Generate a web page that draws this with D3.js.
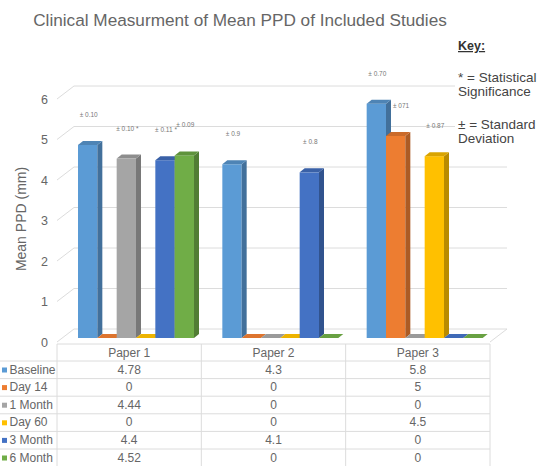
<!DOCTYPE html>
<html>
<head>
<meta charset="utf-8">
<script src="https://cdn.jsdelivr.net/npm/d3@7"></script>
<style>
  body { margin: 0; background: #fff; }
  svg { display: block; font-family: "Liberation Sans", Arial, sans-serif; }
</style>
</head>
<body>
<script>
// ---------- data ----------
const papers = ["Paper 1", "Paper 2", "Paper 3"];
const series = ["Baseline", "Day 14", "1 Month", "Day 60", "3 Month", "6 Month"];
const seriesColors = ["#5B9BD5", "#ED7D31", "#A5A5A5", "#FFC000", "#4472C4", "#70AD47"];
const baselineVals = [4.78, 4.3, 5.8];
const day14Vals    = [0, 0, 5];
const month1Vals   = [4.44, 0, 0];
const day60Vals    = [0, 0, 4.5];
const month3Vals   = [4.4, 4.1, 0];
const month6Vals   = [4.52, 0, 0];
const yTicks = [0, 1, 2, 3, 4, 5, 6];
const sdLabels = [
  { paper: "Paper 1", series: "Baseline", text: "± 0.10" },
  { paper: "Paper 1", series: "1 Month",  text: "± 0.10 *" },
  { paper: "Paper 1", series: "3 Month",  text: "± 0.11 *" },
  { paper: "Paper 1", series: "6 Month",  text: "± 0.09" },
  { paper: "Paper 2", series: "Baseline", text: "± 0.9" },
  { paper: "Paper 2", series: "3 Month",  text: "± 0.8" },
  { paper: "Paper 3", series: "Baseline", text: "± 0.70" },
  { paper: "Paper 3", series: "Day 14",   text: "± 071" },
  { paper: "Paper 3", series: "Day 60",   text: "± 0.87" }
];
const titleText = "Clinical Measurment of Mean PPD of Included Studies";
const yTitle = "Mean PPD (mm)";
const keyTitle = "Key:";
const keyLines = ["* = Statistical", "Significance", "± = Standard", "Deviation"];

const seriesValues = [baselineVals, day14Vals, month1Vals, day60Vals, month3Vals, month6Vals];
const rows = series.map((s, i) => ({ name: s, color: seriesColors[i], values: seriesValues[i] }));

// ---------- layout ----------
const W = 549, H = 466;
const svg = d3.select("body").append("svg").attr("width", W).attr("height", H);
const gridColor = "#dcdcdc", textColor = "#666";

const xCol = d3.scaleBand().domain(papers).range([57, 490]);
const xSer = d3.scaleBand().domain(series).range([21, 137]);
const yFront = d3.scaleLinear().domain([0, 6]).range([342, 99]);
const yBar = d3.scaleLinear().domain([0, 6]).range([338, 338 - 242.4]);
const DX = 17, DY = 13;       // wall depth
const BDX = 5, BDY = 4;       // bar depth

// title
svg.append("text").attr("x", 240).attr("y", 26).attr("text-anchor", "middle")
  .attr("font-size", 17.2).attr("fill", "#666").text(titleText);

// back wall + side wall gridlines
const gridG = svg.append("g");
gridG.selectAll("path").data(yTicks).join("path")
  .attr("d", t => `M57,${yFront(t)} L${57 + DX},${yFront(t) - DY} L${490 + DX},${yFront(t) - DY}`)
  .attr("fill", "none").attr("stroke", gridColor).attr("stroke-width", 1);
gridG.append("path").attr("d", `M490,${yFront(0)} L${490 + DX},${yFront(0) - DY}`)
  .attr("stroke", gridColor).attr("fill", "none");

// y axis
const yAxis = svg.append("g").attr("transform", "translate(52,0)")
  .call(d3.axisLeft(yFront).tickValues(yTicks).tickSize(0).tickPadding(4).tickFormat(d3.format("d")));
yAxis.select(".domain").remove();
yAxis.selectAll("text").attr("font-size", 12.5).attr("fill", textColor)
  .attr("font-family", "Liberation Sans, Arial, sans-serif");

svg.append("text").attr("transform", "translate(26,219) rotate(-90)").attr("text-anchor", "middle")
  .attr("font-size", 14).attr("fill", textColor).text(yTitle);

// bars (3D)
const barsG = svg.append("g");
const barData = [];
papers.forEach((p, pi) => rows.forEach(r => barData.push({ paper: p, series: r.name, color: r.color, v: r.values[pi] })));
barData.forEach(d => {
  const x = xCol(d.paper) + xSer(d.series);
  const w = xSer.bandwidth();
  const y0 = yBar(0), y1 = yBar(d.v);
  const c = d3.color(d.color);
  const g = barsG.append("g");
  if (d.v > 0) {
    g.append("rect").attr("x", x).attr("y", y1).attr("width", w).attr("height", y0 - y1).attr("fill", d.color);
    g.append("path")
      .attr("d", `M${x + w},${y1} L${x + w + BDX},${y1 - BDY} L${x + w + BDX},${y0 - BDY} L${x + w},${y0} Z`)
      .attr("fill", c.darker(0.9));
  }
  g.append("path")
    .attr("d", `M${x},${y1} L${x + BDX},${y1 - BDY} L${x + w + BDX},${y1 - BDY} L${x + w},${y1} Z`)
    .attr("fill", d.v > 0 ? c.darker(0.45) : c.darker(0.2));
});

// SD labels: centred over their bar, pushed right of a taller neighbour bar
const valOf = (p, s) => rows.find(r => r.name === s).values[papers.indexOf(p)];
svg.append("g").selectAll("text").data(sdLabels).join("text")
  .each(function (d) {
    const si = series.indexOf(d.series);
    const x = xCol(d.paper) + xSer(d.series);
    const ly = yBar(valOf(d.paper, d.series)) - 28;
    const prevTaller = si > 0 && yBar(valOf(d.paper, series[si - 1])) - BDY < ly;
    d3.select(this)
      .attr("x", prevTaller ? x + BDX + 2 : x + xSer.bandwidth() / 2 + 1)
      .attr("text-anchor", prevTaller ? "start" : "middle")
      .attr("y", ly);
  })
  .attr("font-size", 6.5).attr("fill", "#777").text(d => d.text);

// key
const keyG = svg.append("g");
keyG.append("rect").attr("x", 455).attr("y", 66).attr("width", 94).attr("height", 33).attr("fill", "#fff");
keyG.append("rect").attr("x", 455).attr("y", 113).attr("width", 94).attr("height", 33).attr("fill", "#fff");
keyG.append("text").attr("x", 458).attr("y", 50).attr("font-size", 12.5).attr("font-weight", "bold")
  .attr("fill", "#333").attr("text-decoration", "underline").text(keyTitle);
const keyY = [82, 96, 129, 143];
keyG.selectAll("text.k").data(keyLines).join("text").attr("class", "k")
  .attr("x", 458).attr("y", (d, i) => keyY[i]).attr("font-size", 13.5).attr("fill", "#444")
  .text(d => d);

// data table
const tableG = svg.append("g");
const headerTop = 344, rowTop = 361, rowH = 17.6;
const rowY = d3.scaleBand().domain(series).range([rowTop, rowTop + rowH * series.length]);
tableG.append("line").attr("x1", 57).attr("x2", 490).attr("y1", headerTop).attr("y2", headerTop).attr("stroke", gridColor);
series.forEach(s => {
  tableG.append("line").attr("x1", 0).attr("x2", 490).attr("y1", rowY(s)).attr("y2", rowY(s)).attr("stroke", gridColor);
});
[...papers.map(p => xCol(p)), xCol.range()[1]].forEach(x => {
  tableG.append("line").attr("x1", x).attr("x2", x).attr("y1", headerTop).attr("y2", H).attr("stroke", gridColor);
});
tableG.selectAll("text.h").data(papers).join("text").attr("class", "h")
  .attr("x", p => xCol(p) + xCol.bandwidth() / 2).attr("y", headerTop + 13)
  .attr("text-anchor", "middle").attr("font-size", 12).attr("fill", textColor).text(p => p);
rows.forEach(r => {
  const ty = rowY(r.name) + 12.5;
  tableG.append("rect").attr("x", 2).attr("y", ty - 6).attr("width", 5).attr("height", 5).attr("fill", r.color);
  tableG.append("text").attr("x", 9.5).attr("y", ty).attr("font-size", 12).attr("fill", textColor).text(r.name);
  papers.forEach((p, pi) => {
    tableG.append("text").attr("x", xCol(p) + xCol.bandwidth() / 2).attr("y", ty)
      .attr("text-anchor", "middle").attr("font-size", 12).attr("fill", textColor).text(String(r.values[pi]));
  });
});
</script>
</body>
</html>
